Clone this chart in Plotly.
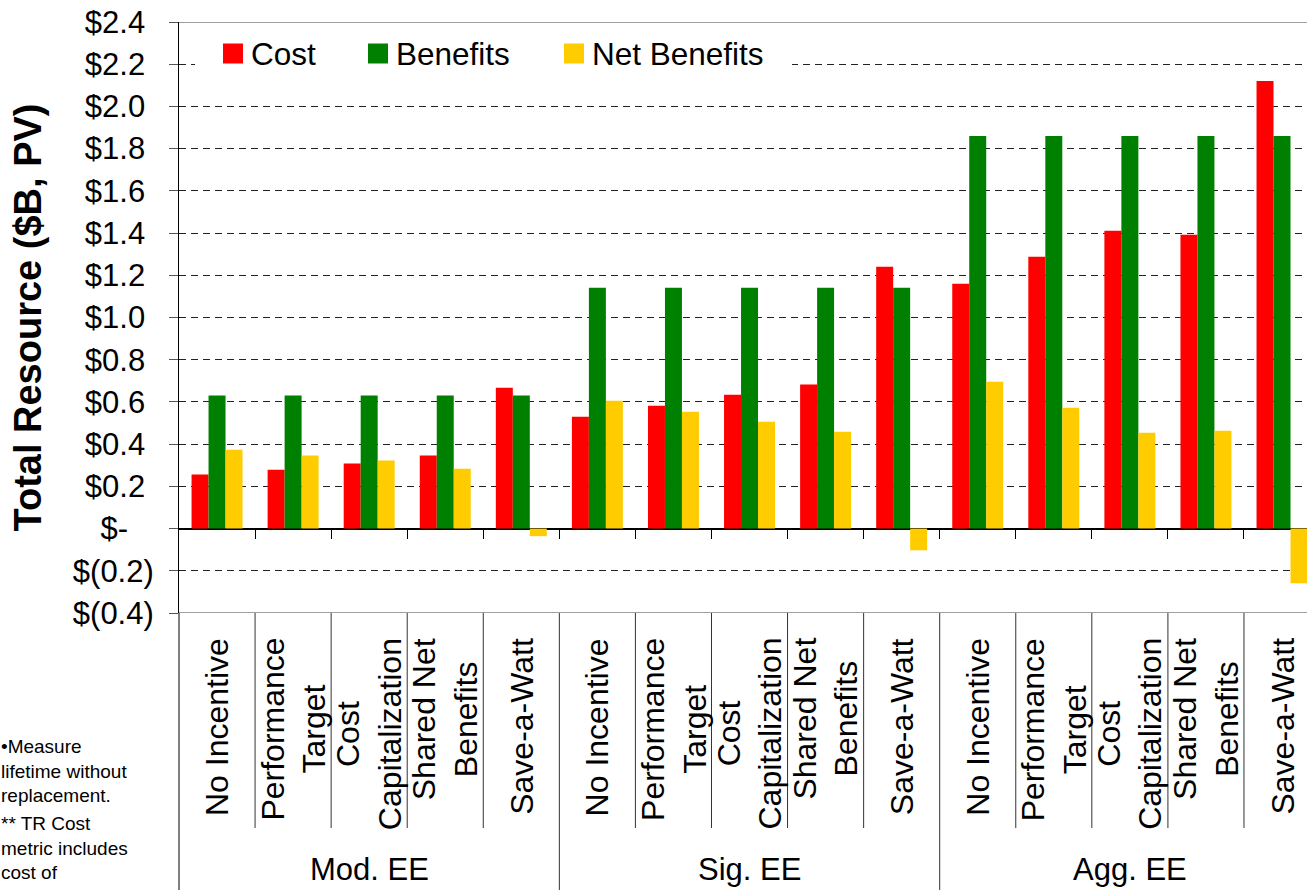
import plotly.graph_objects as go

# ---------------- data ----------------
groups = ["Mod. EE", "Sig. EE", "Agg. EE"]
scenarios = ["No Incentive", "Performance<br>Target", "Cost<br>Capitalization",
             "Shared Net<br>Benefits", "Save-a-Watt"]
series_names = ["Cost", "Benefits", "Net Benefits"]

cost = [0.256, 0.279, 0.308, 0.346, 0.667,
        0.530, 0.582, 0.634, 0.682, 1.240,
        1.160, 1.288, 1.411, 1.392, 2.121]
benefits = [0.630, 0.630, 0.630, 0.630, 0.630,
            1.141, 1.141, 1.141, 1.141, 1.141,
            1.860, 1.860, 1.860, 1.860, 1.860]
net_benefits = [0.374, 0.346, 0.322, 0.284, -0.036,
                0.606, 0.554, 0.506, 0.459, -0.103,
                0.696, 0.573, 0.454, 0.464, -0.259]

ytick_vals = [-0.4, -0.2, 0.0, 0.2, 0.4, 0.6, 0.8, 1.0, 1.2, 1.4, 1.6, 1.8, 2.0, 2.2, 2.4]
ytick_labels = ["$(0.4)", "$(0.2)", "$-", "$0.2", "$0.4", "$0.6", "$0.8", "$1.0",
                "$1.2", "$1.4", "$1.6", "$1.8", "$2.0", "$2.2", "$2.4"]

notes = ["\u2022Measure<br>lifetime without<br>replacement.",
         "** TR Cost<br>metric includes<br>cost of"]

colors = ["#FF0000", "#008000", "#FFCC00"]
series_values = [cost, benefits, net_benefits]

# ---------------- geometry helpers ----------------
W, H = 1307, 890
L, T, B = 179, 22, 613          # plot area left / top / bottom (px)
n_cat = len(groups) * len(scenarios)
cat_px = 76.07
x_right = -0.5 + (W - L) / cat_px


def px_x(p):
    return (p - L) / (W - L)


def px_y(p):
    return (B - p) / (B - T)


FONT = 'Arial, "Liberation Sans", sans-serif'
xpos = list(range(n_cat))

fig = go.Figure()
for name, vals, col in zip(series_names, series_values, colors):
    fig.add_trace(go.Bar(x=xpos, y=vals, name=name, marker=dict(color=col, line=dict(width=0)),
                         showlegend=False))


# y tick labels padded like Excel accounting format
def pad(lbl):
    if lbl.endswith(")"):
        return lbl
    if lbl.endswith("-"):
        return lbl + "\u00a0\u00a0\u00a0"
    return lbl + "\u00a0"


shapes = []
# plot frame top / bottom (grey solid)
for yv in (ytick_vals[0], ytick_vals[-1]):
    shapes.append(dict(type="line", xref="paper", yref="y", x0=0, x1=1, y0=yv, y1=yv,
                       line=dict(color="#808080", width=1.5), layer="above"))
# left axis extended down through the label table
shapes.append(dict(type="line", xref="paper", yref="paper", x0=0, x1=0, y0=0, y1=px_y(H + 5),
                   line=dict(color="black", width=1), layer="above"))
# category / group separators in the label table
for k in range(n_cat - 1):
    xb = k + 0.5
    is_group = (k + 1) % len(scenarios) == 0
    shapes.append(dict(type="line", xref="x", yref="paper", x0=xb, x1=xb, y0=0,
                       y1=px_y(H + 5) if is_group else px_y(828),
                       line=dict(color="#333333", width=1), layer="above"))

# custom legend
leg_sq_x = [223, 368, 564]
shapes.append(dict(type="rect", xref="paper", yref="paper", x0=px_x(195), x1=px_x(792),
                   y0=px_y(76), y1=px_y(34), fillcolor="white", line=dict(width=0), layer="above"))
annotations = []
for name, col, sx in zip(series_names, colors, leg_sq_x):
    shapes.append(dict(type="rect", xref="paper", yref="paper", x0=px_x(sx), x1=px_x(sx + 20),
                       y0=px_y(63.5), y1=px_y(43.5), fillcolor=col, line=dict(width=0), layer="above"))
    annotations.append(dict(text=name, xref="paper", yref="paper", x=px_x(sx + 26), y=px_y(53.5),
                            xanchor="left", yanchor="middle", showarrow=False,
                            font=dict(size=31.5, family=FONT, color="black")))

# category labels
for gi, g in enumerate(groups):
    for si, s in enumerate(scenarios):
        annotations.append(dict(text=s, xref="x", yref="paper", x=gi * len(scenarios) + si,
                                y=px_y(636), xanchor="center", yanchor="top", textangle=-90,
                                align="center", showarrow=False,
                                font=dict(size=32, family=FONT, color="black")))
    annotations.append(dict(text=g, xref="x", yref="paper", x=gi * len(scenarios) + (len(scenarios) - 1) / 2,
                            y=px_y(869), xanchor="center", yanchor="middle", showarrow=False,
                            font=dict(size=31, family=FONT, color="black")))

# side notes
for txt, ytop in zip(notes, [735, 812]):
    annotations.append(dict(text=txt, xref="paper", yref="paper", x=px_x(0), y=px_y(ytop),
                            xanchor="left", yanchor="top", align="left", showarrow=False,
                            borderpad=0,
                            font=dict(size=19, family=FONT, color="black")))

fig.update_layout(
    template="none",
    width=W, height=H,
    margin=dict(l=L, r=0, t=T, b=H - B, pad=0, autoexpand=False),
    paper_bgcolor="white", plot_bgcolor="white",
    barmode="group", bargap=0.33, bargroupgap=0,
    showlegend=False,
    font=dict(family=FONT, color="black"),
    xaxis=dict(range=[-0.5, x_right], anchor="free",
               position=(0 - ytick_vals[0]) / (ytick_vals[-1] - ytick_vals[0]),
               tickvals=[k + 0.5 for k in range(n_cat - 1)], ticks="outside", ticklen=9,
               tickcolor="black", tickwidth=1, showticklabels=False, showgrid=False,
               zeroline=False, showline=False, automargin=False),
    yaxis=dict(range=[ytick_vals[0], ytick_vals[-1]], tickvals=ytick_vals,
               ticktext=[pad(t) for t in ytick_labels],
               ticks="outside", ticklen=9, tickcolor="#555555", tickwidth=1,
               ticklabelstandoff=9,
               showgrid=True, gridcolor="#222222", gridwidth=1, griddash="7px,5px",
               zeroline=True, zerolinecolor="black", zerolinewidth=1.5,
               showline=True, linecolor="black", linewidth=1, automargin=False,
               tickfont=dict(size=31, family=FONT, color="black"),
               title=dict(text="<b>Total Resource ($B, PV)</b>", standoff=19,
                          font=dict(size=38, family=FONT, color="black"))),
    shapes=shapes,
    annotations=annotations,
)

fig.write_html("out.html")
